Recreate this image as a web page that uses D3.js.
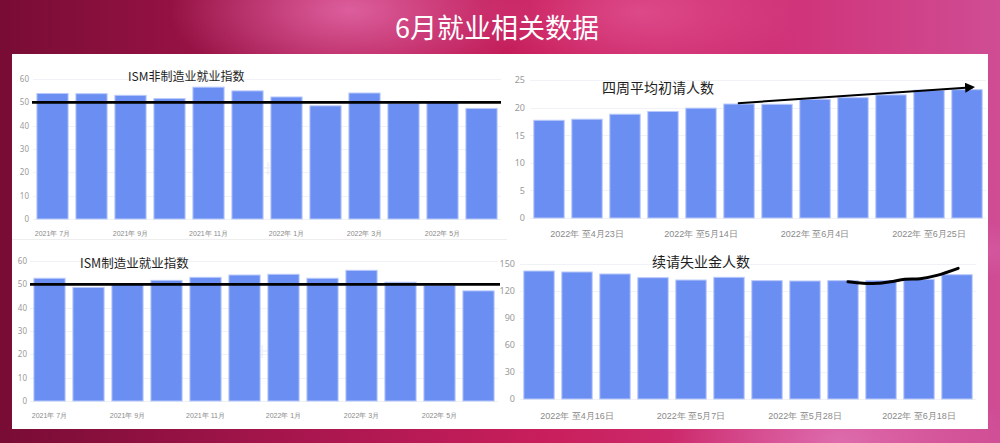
<!DOCTYPE html>
<html><head><meta charset="utf-8">
<script src="https://cdn.jsdelivr.net/npm/d3@7"></script>
<style>
html,body{margin:0;padding:0;background:#fff;}
svg{display:block;font-family:"Noto Sans CJK SC","Noto Sans",sans-serif;}
</style></head>
<body>
<svg id="c" width="1000" height="443"></svg>
<script>
// ---------- data ----------
const pageTitle = "6月就业相关数据";
const monthCats = ["2021年 7月","2021年 8月","2021年 9月","2021年 10月","2021年 11月","2021年 12月",
                   "2022年 1月","2022年 2月","2022年 3月","2022年 4月","2022年 5月","2022年 6月"];
const nonMfgTitle = "ISM非制造业就业指数";
const nonMfgValues = [53.8,53.7,53.0,51.6,56.5,54.9,52.3,48.5,54.0,49.5,50.2,47.4];
const mfgTitle = "ISM制造业就业指数";
const mfgValues = [52.6,48.7,50.0,51.7,53.0,54.0,54.3,52.6,56.0,50.9,49.6,47.2];
const ismTicks = [0,10,20,30,40,50,60];
const ismRefValue = 50;

const initWeeks = ["2022年 至4月16日","2022年 至4月23日","2022年 至4月30日","2022年 至5月7日","2022年 至5月14日","2022年 至5月21日",
                   "2022年 至5月28日","2022年 至6月4日","2022年 至6月11日","2022年 至6月18日","2022年 至6月25日","2022年 至7月2日"];
const initTitle = "四周平均初请人数";
const initValues = [17.7,17.9,18.8,19.3,19.9,20.65,20.6,21.5,21.8,22.3,23.15,23.25];
const initTicks = [0,5,10,15,20,25];
const initArrowIdx = [4.97, 11.16];
const initArrowVal = [20.8, 23.7];

const contWeeks = ["2022年 至4月9日","2022年 至4月16日","2022年 至4月23日","2022年 至4月30日","2022年 至5月7日","2022年 至5月14日",
                   "2022年 至5月21日","2022年 至5月28日","2022年 至6月4日","2022年 至6月11日","2022年 至6月18日","2022年 至6月25日"];
const contTitle = "续请失业金人数";
const contValues = [142.2,141.1,138.9,134.8,132.2,135.2,131.5,131.1,131.5,131.5,133.0,138.1];
const contTicks = [0,30,60,90,120,150];
const contCurveIdx = [8.13,8.53,8.89,9.24,9.63,10.03,10.47,11.03];
const contCurveVal = [130.3,128.6,128.6,130.3,133.0,133.7,137.4,145.2];

const watermark = "金十数据";

// ---------- background ----------
const svg = d3.select("#c");
const defs = svg.append("defs");
const lg = defs.append("linearGradient").attr("id","bg").attr("x1","0").attr("x2","1").attr("y1","0").attr("y2","0");
[["0%","#780c34"],["30%","#a8164e"],["55%","#c91f5c"],["80%","#d0347a"],["100%","#cf4d94"]]
  .forEach(s=>lg.append("stop").attr("offset",s[0]).attr("stop-color",s[1]));
svg.append("rect").attr("width",1000).attr("height",443).attr("fill","url(#bg)");
function blob(id,cx,cy,r,col,op){
  const g=defs.append("radialGradient").attr("id",id);
  g.append("stop").attr("offset","0%").attr("stop-color",col).attr("stop-opacity",op);
  g.append("stop").attr("offset","100%").attr("stop-color",col).attr("stop-opacity",0);
  svg.append("ellipse").attr("cx",cx).attr("cy",cy).attr("rx",r).attr("ry",r*0.45).attr("fill",`url(#${id})`);
}
blob("b1",350,10,180,"#e870b0",0.8);
blob("b2",640,12,160,"#e860a0",0.6);
blob("b3",840,440,170,"#e078b8",0.8);
blob("b4",980,250,60,"#d860a8",0.6);

svg.append("text").attr("x",497).attr("y",26).attr("text-anchor","middle").attr("dominant-baseline","central")
  .attr("fill","#fff").attr("font-size",27).text(pageTitle);

// white panel
svg.append("rect").attr("x",12).attr("y",54).attr("width",976).attr("height",375).attr("fill","#fff");
svg.append("line").attr("x1",12).attr("x2",507).attr("y1",239.5).attr("y2",239.5).attr("stroke","#eeeeee");

// ---------- chart builder ----------
function chart(o){
  const g = svg.append("g");
  const x = d3.scaleBand().domain(o.cats).range(o.xr).paddingInner(0.2).paddingOuter(0.1);
  const y = d3.scaleLinear().domain([0, d3.max(o.ticks)]).range(o.yr);
  // grid
  g.selectAll(".grid").data(o.ticks).join("line")
    .attr("x1",o.xr[0]).attr("x2",o.xr[1]).attr("y1",d=>Math.round(y(d))+0.5).attr("y2",d=>Math.round(y(d))+0.5)
    .attr("stroke","#f1f2f5");
  // watermark
  g.append("text").attr("x",o.wm[0]).attr("y",o.wm[1]).attr("text-anchor","middle").attr("dominant-baseline","central")
    .attr("font-size",13).attr("font-weight","bold").attr("fill","#e4e8f2").attr("fill-opacity",0.5).text("Q " + watermark);
  // y axis
  const ya = g.append("g").attr("transform",`translate(${o.yLabelX},0)`)
    .call(d3.axisLeft(y).tickValues(o.ticks).tickSize(0).tickPadding(0));
  ya.select(".domain").remove();
  ya.selectAll("text").attr("fill","#9a9a9a").attr("font-size",o.yfs).attr("font-family",'"Noto Sans","Noto Sans CJK SC",sans-serif');
  // bars
  g.selectAll(".bar").data(o.values).join("rect")
    .attr("x",(d,i)=>x(o.cats[i])).attr("width",x.bandwidth())
    .attr("y",d=>y(d)).attr("height",d=>y(0)-y(d))
    .attr("fill","#6a8ef2").attr("stroke","#b9c9fa").attr("stroke-width",1);
  // x axis
  const xa = g.append("g").attr("transform",`translate(0,${o.xLabelY})`)
    .call(d3.axisBottom(x).tickValues(o.cats.filter((c,i)=>i%o.every===o.start)).tickSize(0).tickPadding(0));
  xa.select(".domain").remove();
  xa.selectAll("text").attr("fill","#8a8a8a").attr("font-size",o.xfs).attr("dy","0");
  // title
  g.append("text").attr("x",o.title[0]).attr("y",o.title[1]).attr("dominant-baseline","central")
    .attr("fill","#1e1e1e").attr("font-size",o.tfs).text(o.titleText);
  const px = idx => x(o.cats[0]) + x.bandwidth()/2 + idx*x.step();
  return {g,x,y,px};
}

const tl = chart({cats:monthCats, values:nonMfgValues, ticks:ismTicks, xr:[33,501], yr:[219,79], yLabelX:29, yfs:8,
  xLabelY:236, xfs:7, every:2, start:0, title:[128,75.5], titleText:nonMfgTitle, tfs:12, wm:[268,167]});
tl.g.append("line").attr("x1",32).attr("x2",501).attr("y1",tl.y(ismRefValue)).attr("y2",tl.y(ismRefValue))
  .attr("stroke","#000").attr("stroke-width",2.6);

const bl = chart({cats:monthCats, values:mfgValues, ticks:ismTicks, xr:[30,498], yr:[401,261], yLabelX:27, yfs:8,
  xLabelY:418, xfs:7, every:2, start:0, title:[80,262], titleText:mfgTitle, tfs:12.5, wm:[262,350]});
bl.g.append("line").attr("x1",30).attr("x2",500).attr("y1",bl.y(ismRefValue)).attr("y2",bl.y(ismRefValue))
  .attr("stroke","#000").attr("stroke-width",2.6);

const tr = chart({cats:initWeeks, values:initValues, ticks:initTicks, xr:[530,986], yr:[218,80], yLabelX:525, yfs:9,
  xLabelY:237, xfs:9, every:3, start:1, title:[602,87], titleText:initTitle, tfs:14, wm:[760,155]});
defs.append("marker").attr("id","ah").attr("viewBox","0 0 10 10").attr("refX",8).attr("refY",5)
  .attr("markerWidth",5).attr("markerHeight",5).attr("orient","auto")
  .append("path").attr("d","M0,0L10,5L0,10z").attr("fill","#000");
tr.g.append("line")
  .attr("x1",tr.px(initArrowIdx[0])).attr("y1",tr.y(initArrowVal[0]))
  .attr("x2",tr.px(initArrowIdx[1])).attr("y2",tr.y(initArrowVal[1]))
  .attr("stroke","#000").attr("stroke-width",2).attr("marker-end","url(#ah)");

const br = chart({cats:contWeeks, values:contValues, ticks:contTicks, xr:[520,976], yr:[399,264], yLabelX:515, yfs:9,
  xLabelY:419, xfs:9, every:3, start:1, title:[652,261], titleText:contTitle, tfs:14, wm:[750,336]});
br.g.append("path")
  .datum(contCurveIdx.map((d,i)=>[br.px(d), br.y(contCurveVal[i])]))
  .attr("d", d3.line().curve(d3.curveCatmullRom))
  .attr("fill","none").attr("stroke","#000").attr("stroke-width",3).attr("stroke-linecap","round");
</script>
</body></html>
